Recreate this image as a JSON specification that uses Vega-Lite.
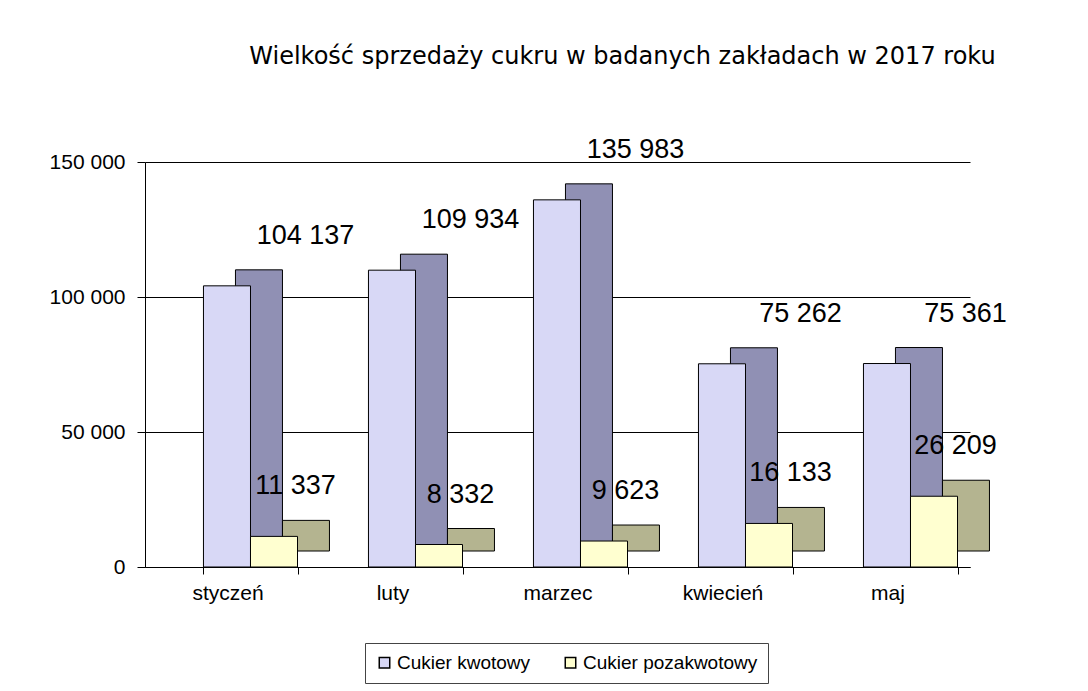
{
  "$schema": "https://vega.github.io/schema/vega-lite/v6.json",
  "width": 825,
  "height": 405,
  "autosize": {"type": "none"},
  "padding": {"left": 145, "top": 162, "right": 118, "bottom": 124},
  "background": "white",
  "config": {
    "locale": {"number": {"decimal": ",", "thousands": " ", "grouping": [3], "currency": ["", " zł"]}},
    "font": "Liberation Sans",
    "view": {"stroke": null}
  },
  "title": {
    "text": "Wielkość sprzedaży cukru w badanych zakładach w 2017 roku",
    "font": "DejaVu Sans",
    "fontSize": 24,
    "fontWeight": "normal",
    "color": "black",
    "anchor": "middle",
    "dx": 65,
    "offset": 67
  },
  "data": {
    "values": [
      {"miesiac": "styczeń", "seria": "Cukier kwotowy", "wartosc": 104137},
      {"miesiac": "styczeń", "seria": "Cukier pozakwotowy", "wartosc": 11337},
      {"miesiac": "luty", "seria": "Cukier kwotowy", "wartosc": 109934},
      {"miesiac": "luty", "seria": "Cukier pozakwotowy", "wartosc": 8332},
      {"miesiac": "marzec", "seria": "Cukier kwotowy", "wartosc": 135983},
      {"miesiac": "marzec", "seria": "Cukier pozakwotowy", "wartosc": 9623},
      {"miesiac": "kwiecień", "seria": "Cukier kwotowy", "wartosc": 75262},
      {"miesiac": "kwiecień", "seria": "Cukier pozakwotowy", "wartosc": 16133},
      {"miesiac": "maj", "seria": "Cukier kwotowy", "wartosc": 75361},
      {"miesiac": "maj", "seria": "Cukier pozakwotowy", "wartosc": 26209}
    ]
  },
  "encoding": {
    "x": {
      "field": "miesiac",
      "type": "nominal",
      "sort": ["styczeń", "luty", "marzec", "kwiecień", "maj"],
      "scale": {"paddingInner": 0.43, "paddingOuter": 0.215, "align": 0.824},
      "axis": {
        "title": null,
        "labelAngle": 0,
        "labelFontSize": 21,
        "labelColor": "black",
        "labelPadding": 8,
        "labelOffset": -23,
        "tickOffset": -23,
        "domainColor": "black",
        "tickColor": "black",
        "tickBand": "extent",
        "tickSize": 7
      }
    },
    "y": {
      "field": "wartosc",
      "type": "quantitative",
      "scale": {"domain": [0, 150000], "nice": false},
      "axis": {
        "title": null,
        "values": [0, 50000, 100000, 150000],
        "format": ",.0f",
        "labelFontSize": 21,
        "labelColor": "black",
        "labelPadding": 12,
        "domainColor": "black",
        "tickColor": "black",
        "tickSize": 8,
        "grid": true,
        "gridColor": "black",
        "gridWidth": 1
      }
    }
  },
  "layer": [
    {
      "mark": {"type": "bar", "yOffset": -16, "stroke": "black", "strokeWidth": 1},
      "encoding": {
        "xOffset": {"field": "seria", "type": "nominal", "sort": ["Cukier kwotowy", "Cukier pozakwotowy"], "scale": {"range": [32, 126]}},
        "color": {
          "field": "seria",
          "type": "nominal",
          "scale": {"domain": ["Cukier kwotowy", "Cukier pozakwotowy"], "range": ["#9090B4", "#B4B490"]},
          "legend": null
        }
      }
    },
    {
      "mark": {"type": "bar", "stroke": "black", "strokeWidth": 1},
      "encoding": {
        "xOffset": {"field": "seria", "type": "nominal", "sort": ["Cukier kwotowy", "Cukier pozakwotowy"]},
        "color": {
          "field": "seria",
          "type": "nominal",
          "scale": {"domain": ["Cukier kwotowy", "Cukier pozakwotowy"], "range": ["#D8D8F6", "#FFFFD0"]},
          "legend": {
            "title": null,
            "orient": "none",
            "direction": "horizontal",
            "legendX": 220,
            "legendY": 481,
            "symbolType": "square",
            "symbolSize": 110,
            "symbolStrokeColor": "black",
            "symbolStrokeWidth": 1.5,
            "labelFontSize": 19,
            "labelLimit": 400,
            "labelColor": "black",
            "labelOffset": 3,
            "columnPadding": 30,
            "padding": 10,
            "strokeColor": "#444444",
            "fillColor": "white"
          }
        }
      }
    },
    {
      "transform": [{"filter": "datum.seria === 'Cukier kwotowy'"}],
      "mark": {"type": "text", "fontSize": 27, "baseline": "bottom", "dx": 55, "dy": -36, "color": "black"},
      "encoding": {
        "xOffset": {"field": "seria", "type": "nominal", "sort": ["Cukier kwotowy", "Cukier pozakwotowy"]},
        "text": {"field": "wartosc", "type": "quantitative", "format": ",.0f"}
      }
    },
    {
      "transform": [{"filter": "datum.seria === 'Cukier pozakwotowy'"}],
      "mark": {"type": "text", "fontSize": 27, "baseline": "bottom", "dx": 45, "dy": -36, "color": "black"},
      "encoding": {
        "xOffset": {"field": "seria", "type": "nominal", "sort": ["Cukier kwotowy", "Cukier pozakwotowy"]},
        "text": {"field": "wartosc", "type": "quantitative", "format": ",.0f"}
      }
    }
  ],
  "resolve": {"scale": {"color": "independent", "xOffset": "independent"}}
}
